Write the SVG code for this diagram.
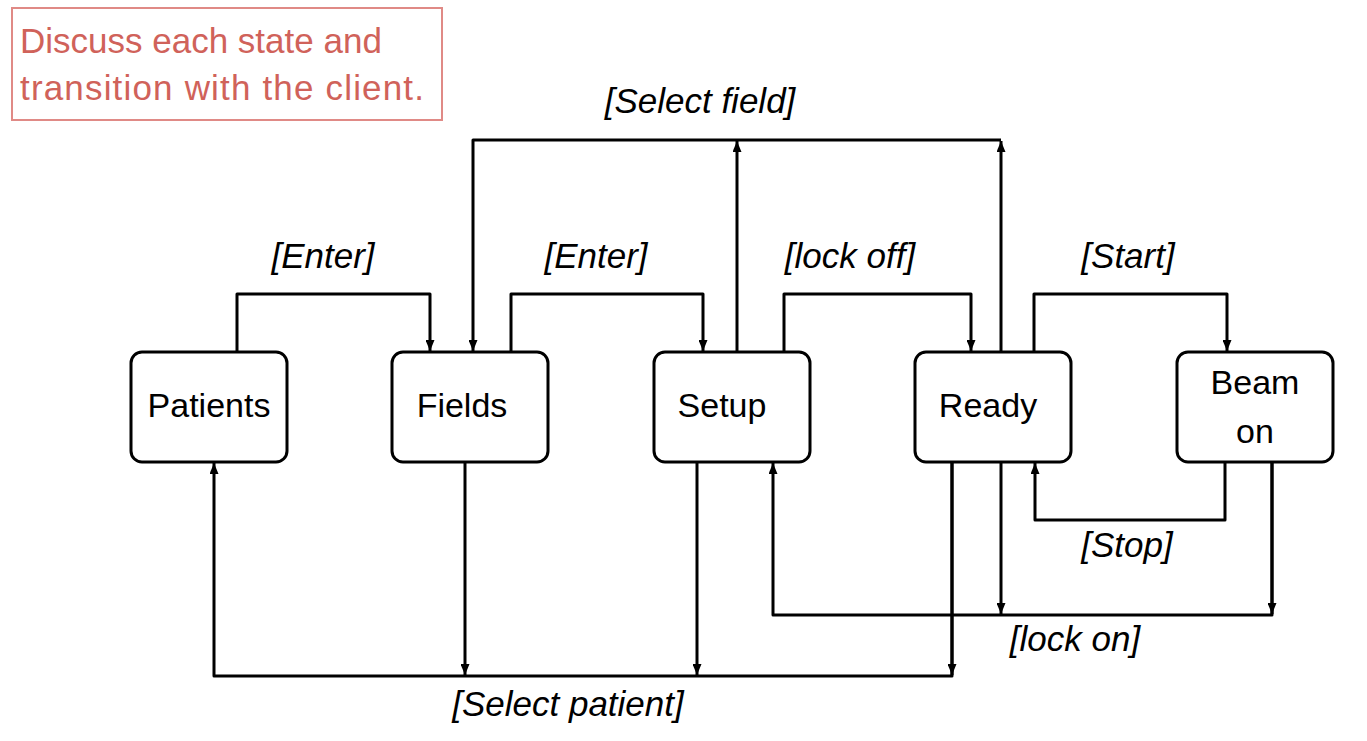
<svg xmlns="http://www.w3.org/2000/svg" width="1367" height="741" viewBox="0 0 1367 741">
<style>
.node rect{fill:#fff;stroke:#000;stroke-width:3}
.node text{font-family:"Liberation Sans",Arial,sans-serif;font-size:34px;fill:#000;text-anchor:middle}
.conn path{fill:none;stroke:#000;stroke-width:3;stroke-linejoin:round}
.lbl{font-family:"Liberation Sans",Arial,sans-serif;font-style:italic;font-size:35px;fill:#000;text-anchor:middle}
.note{font-family:"Liberation Sans",Arial,sans-serif;font-size:35px;fill:#D0625A}
</style>
<defs>
<marker id="ah" viewBox="0 0 11 9" refX="11" refY="4.5" markerWidth="11" markerHeight="9" markerUnits="userSpaceOnUse" orient="auto">
<path d="M0,0 L11,4.5 L0,9 z" fill="#000"/>
</marker>
</defs>
<rect width="1367" height="741" fill="#fff"/>
<g id="note">
<rect x="12" y="8" width="430" height="112" fill="#fff" stroke="#E08A86" stroke-width="2"/>
<text class="note" x="20" y="53">Discuss each state and</text>
<text class="note" x="20" y="100" textLength="404">transition with the client.</text>
</g>
<g class="conn" id="connectors">
<path d="M237,352 V294 H430 V351" marker-end="url(#ah)"/>
<path d="M511,352 V294 H703 V351" marker-end="url(#ah)"/>
<path d="M784,352 V294 H971 V351" marker-end="url(#ah)"/>
<path d="M1034,352 V294 H1227 V351" marker-end="url(#ah)"/>
<path d="M1001,140 H473 V351" marker-end="url(#ah)"/>
<path d="M737,352 V141" marker-end="url(#ah)"/>
<path d="M1001,352 V141" marker-end="url(#ah)"/>
<path d="M952,462 V676 H214 V463" marker-end="url(#ah)"/>
<path d="M465,462 V675" marker-end="url(#ah)"/>
<path d="M697,462 V675" marker-end="url(#ah)"/>
<path d="M952,462 V675" marker-end="url(#ah)"/>
<path d="M1272,462 V615 H773 V463" marker-end="url(#ah)"/>
<path d="M1001,462 V614" marker-end="url(#ah)"/>
<path d="M1272,462 V614" marker-end="url(#ah)"/>
<path d="M1225,462 V520 H1035 V463" marker-end="url(#ah)"/>
</g>
<g id="labels">
<text class="lbl" x="700" y="113">[Select field]</text>
<text class="lbl" x="323" y="268">[Enter]</text>
<text class="lbl" x="596" y="268">[Enter]</text>
<text class="lbl" x="850" y="268">[lock off]</text>
<text class="lbl" x="1128" y="268">[Start]</text>
<text class="lbl" x="1127" y="557">[Stop]</text>
<text class="lbl" x="1075" y="651">[lock on]</text>
<text class="lbl" x="568" y="716">[Select patient]</text>
</g>
<g class="node" id="patients">
<rect x="131" y="352" width="156" height="110" rx="11"/>
<text x="209" y="417">Patients</text>
</g>
<g class="node" id="fields">
<rect x="392" y="352" width="156" height="110" rx="11"/>
<text x="462" y="417">Fields</text>
</g>
<g class="node" id="setup">
<rect x="654" y="352" width="156" height="110" rx="11"/>
<text x="722" y="417">Setup</text>
</g>
<g class="node" id="ready">
<rect x="915" y="352" width="156" height="110" rx="11"/>
<text x="988" y="417">Ready</text>
</g>
<g class="node" id="beamon">
<rect x="1177" y="352" width="156" height="110" rx="11"/>
<text x="1255" y="394">Beam</text>
<text x="1255" y="443">on</text>
</g>
</svg>
